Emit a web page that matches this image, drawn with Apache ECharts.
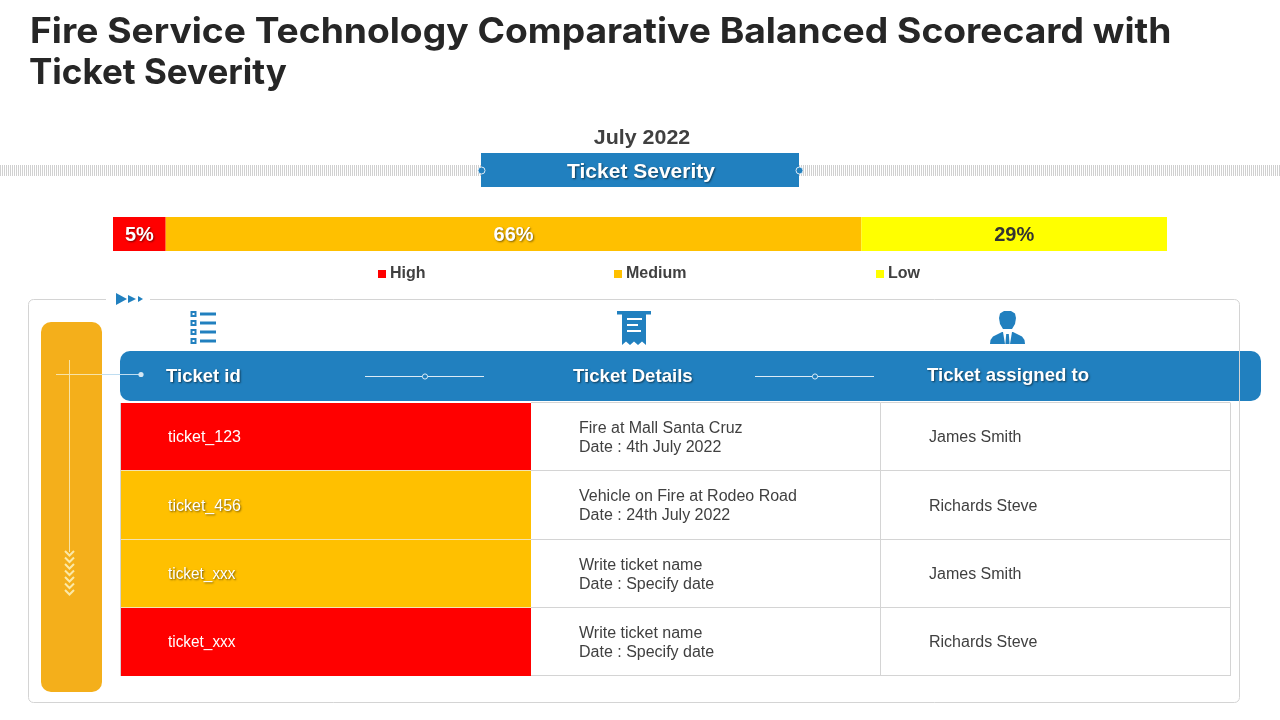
<!DOCTYPE html>
<html><head><meta charset="utf-8">
<style>html,body{margin:0;padding:0;background:#fff}#c{width:1280px;height:720px}</style>
<script src="https://cdn.jsdelivr.net/npm/echarts@6/dist/echarts.min.js"></script>
</head><body><div id="c"></div>
<script>
var titleLines = ['Fire Service Technology Comparative Balanced Scorecard with', 'Ticket Severity'];
var period = 'July 2022';
var bandTitle = 'Ticket Severity';
var severityNames = ['High', 'Medium', 'Low'];
var severityValues = [5, 66, 29];
var severityColors = ['#FF0000', '#FFC000', '#FFFF00'];
var severityLabelColors = ['#ffffff', '#ffffff', '#333333'];
var headers = ['Ticket id', 'Ticket Details', 'Ticket assigned to'];
var ticketIds = ['ticket_123', 'ticket_456', 'ticket_xxx', 'ticket_xxx'];
var ticketSeverity = ['High', 'Medium', 'Medium', 'High'];
var ticketDetails = ['Fire at Mall Santa Cruz', 'Vehicle on Fire at Rodeo Road', 'Write ticket name', 'Write ticket name'];
var ticketDates = ['Date : 4th July 2022', 'Date : 24th July 2022', 'Date : Specify date', 'Date : Specify date'];
var assignees = ['James Smith', 'Richards Steve', 'James Smith', 'Richards Steve'];

var FONT = '"Liberation Sans", Arial, sans-serif';
var BLUE = '#2180BF', TEXT = '#404040', GOLD = '#F4AF1B', LINE = '#D4D4D4', PALE = '#F7E3A8';
var g = [];
function rect(x, y, w, h, fill, r, stroke, lw) {
  g.push({type: 'rect', shape: {x: x, y: y, width: w, height: h, r: r || 0},
    style: {fill: fill, stroke: stroke || null, lineWidth: lw || 0}, silent: true});
}
function line(x1, y1, x2, y2, stroke, lw, dash) {
  g.push({type: 'line', shape: {x1: x1, y1: y1, x2: x2, y2: y2},
    style: {stroke: stroke, lineWidth: lw || 1, lineDash: dash || null}, silent: true});
}
function dot(cx, cy, r, fill, stroke, lw) {
  g.push({type: 'circle', shape: {cx: cx, cy: cy, r: r},
    style: {fill: fill, stroke: stroke || null, lineWidth: lw || 0}, silent: true});
}
function poly(points, fill) {
  g.push({type: 'polygon', shape: {points: points}, style: {fill: fill}, silent: true});
}
function label(str, x, y, size, weight, fill, align, shadow, scaleX, family) {
  var el = {type: 'text', x: x, y: y, scaleX: scaleX || 1, silent: true, style: {
    text: str, x: 0, y: 0, font: weight + ' ' + size + 'px ' + (family || FONT), fill: fill,
    textAlign: align || 'left', textVerticalAlign: 'middle'}};
  if (shadow) { el.style.textShadowColor = 'rgba(0,0,0,0.55)'; el.style.textShadowBlur = 2; el.style.textShadowOffsetX = 1; el.style.textShadowOffsetY = 1; }
  g.push(el);
}

// title
label(titleLines[0], 30, 32, 35, 'bold', '#262626', 'left', false, 1.063, 'Inter, sans-serif');
label(titleLines[1], 29, 73, 35, 'bold', '#262626', 'left', false, 1.0, 'Inter, sans-serif');

// period and band
label(period, 642, 138, 21, 'bold', TEXT, 'center', false, 1.02);
line(0, 170.5, 481, 170.5, '#D0D0D0', 11, [1, 1]);
line(799, 170.5, 1280, 170.5, '#D0D0D0', 11, [1, 1]);
rect(481, 153, 318, 34, BLUE);
dot(481.5, 170.5, 3.5, BLUE, '#DCEBF6', 1);
dot(799.5, 170.5, 3.5, BLUE, '#DCEBF6', 1);
label(bandTitle, 641, 172, 21, 'bold', '#fff', 'center', true);

// gold panel
rect(41, 322, 61, 370, GOLD, 10);
line(56, 374.5, 141, 374.5, PALE, 1);
line(69.5, 360, 69.5, 552, PALE, 1);
for (var i = 0; i < 7; i++) {
  var cy = 551 + i * 6.5;
  g.push({type: 'polyline', shape: {points: [[65, cy], [69.5, cy + 4.5], [74, cy]]},
    style: {stroke: '#FBE9A8', lineWidth: 2, fill: null}, silent: true});
}

// header bar
rect(120, 351, 1141, 50, BLUE, 10);
line(102, 374.5, 141, 374.5, '#BFDDF0', 1);
dot(141, 374.5, 2.6, '#D5E7F4');
label(headers[0], 166, 376.5, 19, 'bold', '#fff', 'left', true, 0.975);
label(headers[1], 573, 377, 19, 'bold', '#fff', 'left', true, 0.98);
label(headers[2], 927, 376, 19, 'bold', '#fff', 'left', true, 0.98);
[[365, 484, 425], [755, 874, 815]].forEach(function (d) {
  line(d[0], 376.5, d[1], 376.5, '#DCEBF6', 1);
  dot(d[2], 376.5, 2.6, BLUE, '#DCEBF6', 1);
});

// outer frame (over the header bar)
rect(28.5, 299.5, 1211, 403, null, 5, LINE, 1);
rect(106, 294, 44, 12, '#fff');
poly([[116, 293], [127, 299], [116, 305]], BLUE);
poly([[128, 295], [136, 299], [128, 303]], BLUE);
poly([[138, 296], [143, 299], [138, 302]], BLUE);

// table
var rowTops = [403, 471, 539.5, 608, 676];
var colX = [121, 531, 880.5, 1230.5];
ticketIds.forEach(function (id, r) {
  var y0 = rowTops[r], y1 = rowTops[r + 1], my = (y0 + y1) / 2 + 1;
  var sev = severityColors[severityNames.indexOf(ticketSeverity[r])];
  rect(colX[0], y0, colX[1] - colX[0], y1 - y0, sev);
  label(id, 168, my, 16, 'normal', '#fff', 'left', sev === '#FFC000', id === 'ticket_xxx' ? 0.96 : 1);
  label(ticketDetails[r], 579, my - 9.5, 16, 'normal', TEXT);
  label(ticketDates[r], 579, my + 9.5, 16, 'normal', TEXT);
  label(assignees[r], 929, my, 16, 'normal', TEXT);
});
[470.5, 539.5, 607.5].forEach(function (y) {
  line(colX[0], y, colX[1], y, '#F3E3B0', 1);
  line(colX[1], y, colX[3], y, LINE, 1);
});
line(colX[1], 402.5, colX[3], 402.5, LINE, 1);
line(colX[1], 675.5, colX[3], 675.5, LINE, 1);
line(120.5, 403, 120.5, 676, LINE, 1);
line(880.5, 403, 880.5, 676, LINE, 1);
line(1230.5, 403, 1230.5, 676, LINE, 1);

// list icon
[314, 323, 332, 341].forEach(function (y) {
  rect(190.5, y - 3, 6, 6, BLUE);
  rect(192.5, y - 1, 2, 2, '#fff');
  rect(200, y - 1.5, 16, 3, BLUE);
});
// receipt icon
rect(617, 311, 34, 3.5, BLUE);
poly([[622, 314], [646, 314], [646, 345], [642, 341.5], [638, 345], [634, 341.5], [630, 345], [626, 341.5], [622, 345]], BLUE);
rect(627, 318, 15, 2, '#fff');
rect(627, 324, 11, 2, '#fff');
rect(627, 330, 14, 2, '#fff');
// person icon
poly([[999, 318], [1000, 313.5], [1004, 311], [1011, 311], [1015, 313.5], [1016, 318], [1015, 324], [1012, 329], [1003, 329], [1000, 324]], BLUE);
poly([[990, 344], [990.5, 340], [993, 336.5], [998, 334], [1002, 332], [1013, 332], [1017, 334], [1022, 336.5], [1024.5, 340], [1025, 344]], BLUE);
poly([[1003, 332], [1012, 332], [1010, 344], [1005, 344]], '#fff');
poly([[1006.2, 334], [1008.8, 334], [1009.6, 344], [1005.4, 344]], BLUE);

var chart = echarts.init(document.getElementById('c'), null, {renderer: 'canvas'});
var legendLefts = [378, 614, 876];
chart.setOption({
  animation: false,
  backgroundColor: '#fff',
  grid: {left: 113, right: 113, top: 217, height: 34, containLabel: false},
  xAxis: {type: 'value', min: 0, max: 100, show: false},
  yAxis: {type: 'category', data: ['Severity'], show: false},
  legend: severityNames.map(function (n, i) {
    return {data: [n], left: legendLefts[i], top: 266, icon: 'rect', itemWidth: 8, itemHeight: 8, itemGap: 4,
      selectedMode: false, padding: 0,
      textStyle: {fontFamily: FONT, fontSize: 16, fontWeight: 'bold', color: TEXT, padding: [0, 0, 0, -1]}};
  }),
  series: severityNames.map(function (n, i) {
    return {type: 'bar', name: n, stack: 'sev', barWidth: 34, silent: true,
      data: [severityValues[i]],
      itemStyle: {color: severityColors[i]},
      label: {show: true, position: 'inside', offset: [0, 1.5], formatter: '{c}%', fontFamily: FONT, fontSize: 20, fontWeight: 'bold',
        color: severityLabelColors[i], textBorderWidth: 0,
        textShadowColor: i < 2 ? 'rgba(0,0,0,0.5)' : 'transparent', textShadowBlur: 2, textShadowOffsetX: 1, textShadowOffsetY: 1}};
  }),
  graphic: {elements: g}
});
</script></body></html>
